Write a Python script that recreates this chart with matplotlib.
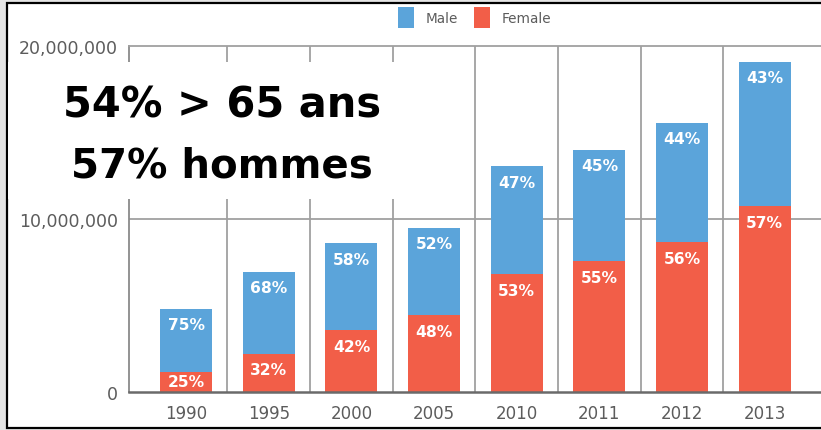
import matplotlib as mpl
mpl.use('Agg')
from matplotlib import pyplot as plt
from matplotlib.patches import Rectangle
from matplotlib.ticker import FuncFormatter

years = ['1990', '1995', '2000', '2005', '2010', '2011', '2012', '2013']
female = [1.16e6, 2.20e6, 3.58e6, 4.45e6, 6.82e6, 7.57e6, 8.67e6, 10.75e6]
male = [3.64e6, 4.74e6, 5.03e6, 5.03e6, 6.24e6, 6.42e6, 6.88e6, 8.33e6]
male_pct = ['75%', '68%', '58%', '52%', '47%', '45%', '44%', '43%']
female_pct = ['25%', '32%', '42%', '48%', '53%', '55%', '56%', '57%']
yticks = [0, 10000000, 20000000]

blue = '#5ba4da'
red = '#f25e48'
txt_gray = '#5c5c5c'
line_gray = '#a0a0a0'

W, H = 821, 431
fig = plt.figure(figsize=(W / 100, H / 100), dpi=100, facecolor='#e4e4e4')

# slide frame
fig.add_artist(Rectangle((7 / W, 2 / H), 1.0, (427 - 2) / H, transform=fig.transFigure,
                         facecolor='white', edgecolor='black', lw=1.6, zorder=-1))

ax = fig.add_axes([129 / W, (H - 393) / H, (W - 129) / W, (393 - 47) / H])
ax.patch.set_alpha(0)
x = list(range(len(years)))
ax.bar(x, female, width=0.63, color=red, label='Female', zorder=2)
ax.bar(x, male, width=0.63, bottom=female, color=blue, label='Male', zorder=2)

ax.set_xlim(-0.69, 7.68)
ax.set_ylim(0, 20000000)
for i in range(len(years) - 1):
    ax.axvline(i + 0.5, color=line_gray, lw=1.3, zorder=1)
ax.axhline(10000000, color=line_gray, lw=1.3, zorder=1)

ax.spines['right'].set_visible(False)
ax.spines['top'].set_color(line_gray)
ax.spines['top'].set_linewidth(1.3)
ax.spines['left'].set_color('#8a8a8a')
ax.spines['left'].set_linewidth(1.3)
ax.spines['bottom'].set_color('#6a6a6a')
ax.spines['bottom'].set_linewidth(1.8)

ax.set_yticks(yticks)
ax.yaxis.set_major_formatter(FuncFormatter(lambda v, p: '{:,}'.format(int(v))))
ax.set_xticks(x)
ax.set_xticklabels(years)
ax.tick_params(axis='y', length=0, pad=8, labelsize=12.5, labelcolor=txt_gray)
ax.tick_params(axis='x', length=0, pad=9, labelsize=12, labelcolor=txt_gray)

# percent labels, placed just under the top of each segment
def px(v):
    return ax.transData.transform((0, v))[1] - ax.transData.transform((0, 0))[1]

for i in range(len(years)):
    segs = [(female[i], female[i], female_pct[i]), (female[i] + male[i], male[i], male_pct[i])]
    for top, h, lab in segs:
        off = min(16, px(h) / 2)
        ax.annotate(lab, xy=(i, top), xytext=(0, -off), textcoords='offset pixels',
                    ha='center', va='center', color='white', fontsize=11.2,
                    fontweight='bold', zorder=3)

handles, labels = ax.get_legend_handles_labels()
leg = fig.legend(handles[::-1], labels[::-1], loc='center', bbox_to_anchor=(0.578, 0.957),
                 ncol=2, frameon=False, fontsize=9.8, handlelength=1.2, handleheight=2.0,
                 handletextpad=0.8, columnspacing=1.2, labelcolor=txt_gray)

# overlay box
fig.add_artist(Rectangle((8 / W, (H - 200) / H), (440 - 8) / W, (200 - 63) / H,
                         transform=fig.transFigure, facecolor='white', edgecolor='none',
                         zorder=5))
fig.text(222 / W, (H - 118) / H, '54% > 65 ans', ha='center', va='baseline',
         fontsize=30, fontweight='bold', color='black', zorder=6)
fig.text(222 / W, (H - 177) / H, '57% hommes', ha='center', va='baseline',
         fontsize=29, fontweight='bold', color='black', zorder=6)

fig.savefig('out.png', dpi=100, facecolor=fig.get_facecolor())
